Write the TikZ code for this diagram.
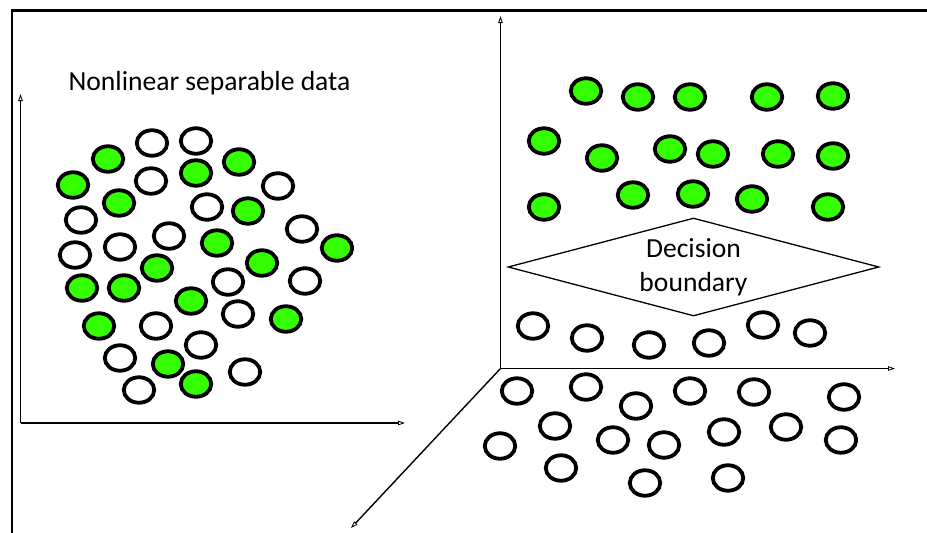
\documentclass[tikz,border=0pt]{standalone}
\usepackage{fontspec}
\setmainfont{Carlito}
\usetikzlibrary{shapes.geometric,arrows.meta}
\definecolor{dotgreen}{RGB}{51,255,0}
\tikzset{
  dotbase/.style={ellipse,draw=black,line width=3.8pt,minimum width=30.5pt,minimum height=25.5pt,inner sep=0pt},
  gdot/.style={dotbase,fill=dotgreen},
  wdot/.style={dotbase,fill=white},
  axis/.style={line width=1.4pt,-{Triangle[open,length=7pt,width=4.5pt,line width=0.8pt]}},
  frameline/.style={line width=2.5pt},
  label/.style={font=\fontsize{27.6}{34}\selectfont}
}
\begin{document}
\begin{tikzpicture}[x=1pt,y=-1pt]
\useasboundingbox (0,0) rectangle (927,533);
% frame
\coordinate (fa) at (12,533);
\coordinate (fb) at (12,10.5);
\coordinate (fc) at (930,10.5);
\draw[frameline] (fa) -- (fb) -- (fc);
% left axes
\coordinate (lo) at (20.5,423);
\coordinate (ly) at (20.5,94);
\coordinate (lx) at (405,423);
\draw[axis] (lo) -- (ly);
\draw[axis] (lo) -- (lx);
% right axes
\coordinate (ro) at (500.5,368.5);
\coordinate (ry) at (500.5,16);
\coordinate (rx) at (895,368.5);
\coordinate (rz) at (351,528);
\draw[axis] (ro) -- (ry);
\draw[axis] (ro) -- (rx);
\draw[axis] (ro) -- (rz);
% title
\node[label,anchor=base] (title) at (209.5,90) {Nonlinear separable data};
% left cluster
\foreach \x/\y [count=\i] in {108/159,196/173,239/162,73/185,119/203,248/211,217/243,337/248,157/268,262/263,82/288,124/288,191/301,286/319,99/326,168/364,196/384}
  \node[gdot] (lg\i) at (\x,\y) {};
\foreach \x/\y [count=\i] in {152/143,196/141,151/181,278/186,207/207,81/220,169/236,302/229,75/255,120/247,228/282,305/281,238/314,156/326,201/345,120/358,245/372,139/390}
  \node[wdot] (lw\i) at (\x,\y) {};
% right greens
\foreach \x/\y [count=\i] in {586/91,638/97,690/97,767/97,833/96,544/141,602/158,670/149,713/154,778/154,833/156,544/207,633/195,693/194,752/199,828/207}
  \node[gdot] (rg\i) at (\x,\y) {};
% right whites
\foreach \x/\y [count=\i] in {533/326,587/338,649/345,709/343,763/325,810/333,517/391,586/387,636/406,690/391,754/392,844/397,555/426,500/446,613/440,664/445,724/432,786/427,841/440,561/468,645/483,728/478}
  \node[wdot] (rw\i) at (\x,\y) {};
% decision boundary
\node[diamond,draw=black,line width=1.3pt,aspect=3.79,minimum width=371pt,minimum height=98pt,inner sep=0pt,label,align=center] (db) at (693.5,267) {Decision\\boundary};
\end{tikzpicture}
\end{document}
